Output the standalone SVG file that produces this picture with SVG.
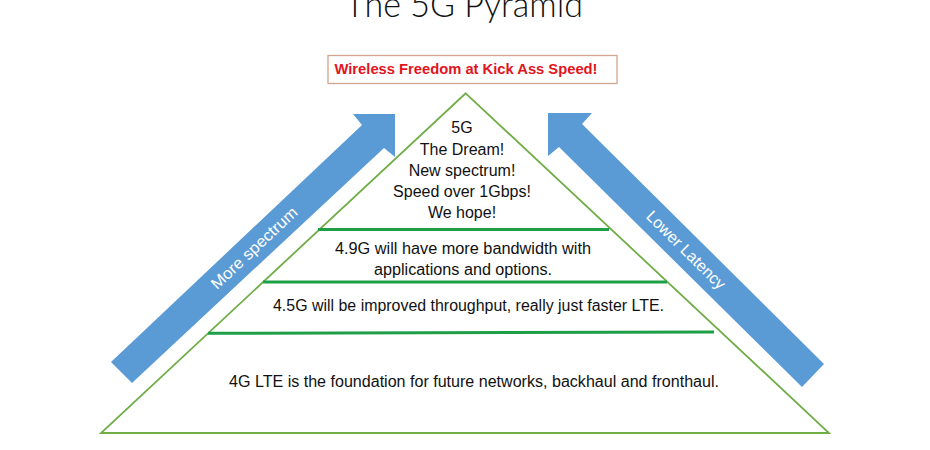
<svg xmlns="http://www.w3.org/2000/svg" width="930" height="450" viewBox="0 0 930 450">
<style>
.body{font-family:"Liberation Sans",Arial,sans-serif;font-size:16px;fill:#111;text-anchor:middle}
.arrowtxt{font-family:"Liberation Sans",Arial,sans-serif;font-size:16px;fill:#fff;text-anchor:middle}
.arrow{fill:#5B9BD5}
.divider{stroke:#1F9E48;stroke-width:3;fill:none}
</style>
<rect width="930" height="450" fill="#fff"/>
<g id="title">
<text x="464" y="17" font-family="Lato,'Liberation Sans',sans-serif" font-weight="300" font-size="36" fill="#111" text-anchor="middle" textLength="238" lengthAdjust="spacingAndGlyphs">The 5G Pyramid</text>
</g>
<g id="banner">
<rect x="328" y="55.5" width="289" height="28" fill="#fff" stroke="#D3A48D" stroke-width="1.3"/>
<text x="466" y="74" font-family="'Liberation Sans',Arial,sans-serif" font-weight="bold" font-size="15" fill="#E2141C" text-anchor="middle" textLength="263" lengthAdjust="spacingAndGlyphs">Wireless Freedom at Kick Ass Speed!</text>
</g>
<g id="pyramid">
<polygon points="465.7,93.3 829,433 101,433" fill="#fff" stroke="#70AD47" stroke-width="1.8" stroke-linejoin="miter"/>
<line class="divider" x1="318" y1="229.5" x2="609" y2="229.5"/>
<line class="divider" x1="263" y1="282" x2="667" y2="282"/>
<line class="divider" x1="208" y1="333.3" x2="714" y2="332"/>
</g>
<g id="layer-5g">
<text class="body" x="462" y="133">5G</text>
<text class="body" x="462" y="155">The Dream!</text>
<text class="body" x="462" y="176">New spectrum!</text>
<text class="body" x="462" y="197">Speed over 1Gbps!</text>
<text class="body" x="462" y="218">We hope!</text>
</g>
<g id="layer-49g">
<text class="body" x="463" y="254" textLength="256" lengthAdjust="spacingAndGlyphs">4.9G will have more bandwidth with</text>
<text class="body" x="463" y="275" textLength="178" lengthAdjust="spacingAndGlyphs">applications and options.</text>
</g>
<g id="layer-45g">
<text class="body" x="468.5" y="311" textLength="391" lengthAdjust="spacingAndGlyphs">4.5G will be improved throughput, really just faster LTE.</text>
</g>
<g id="layer-4g">
<text class="body" x="474" y="387" textLength="490" lengthAdjust="spacingAndGlyphs">4G LTE is the foundation for future networks, backhaul and fronthaul.</text>
</g>
<g id="connectors">
<g id="arrow-spectrum">
<polygon class="arrow" points="111,362 362,125 353,114 395,114 395,157 384,148 132,383"/>
<text class="arrowtxt" transform="translate(254,248) rotate(-43.2)" x="0" y="5.5" textLength="112" lengthAdjust="spacingAndGlyphs">More spectrum</text>
</g>
<g id="arrow-latency">
<polygon class="arrow" points="548,113 592,113 582,124 824,364 802,387 559,147 548,156"/>
<text class="arrowtxt" transform="translate(686,250) rotate(44.7)" x="0" y="5.5" textLength="104" lengthAdjust="spacingAndGlyphs">Lower Latency</text>
</g>
</g>
</svg>
